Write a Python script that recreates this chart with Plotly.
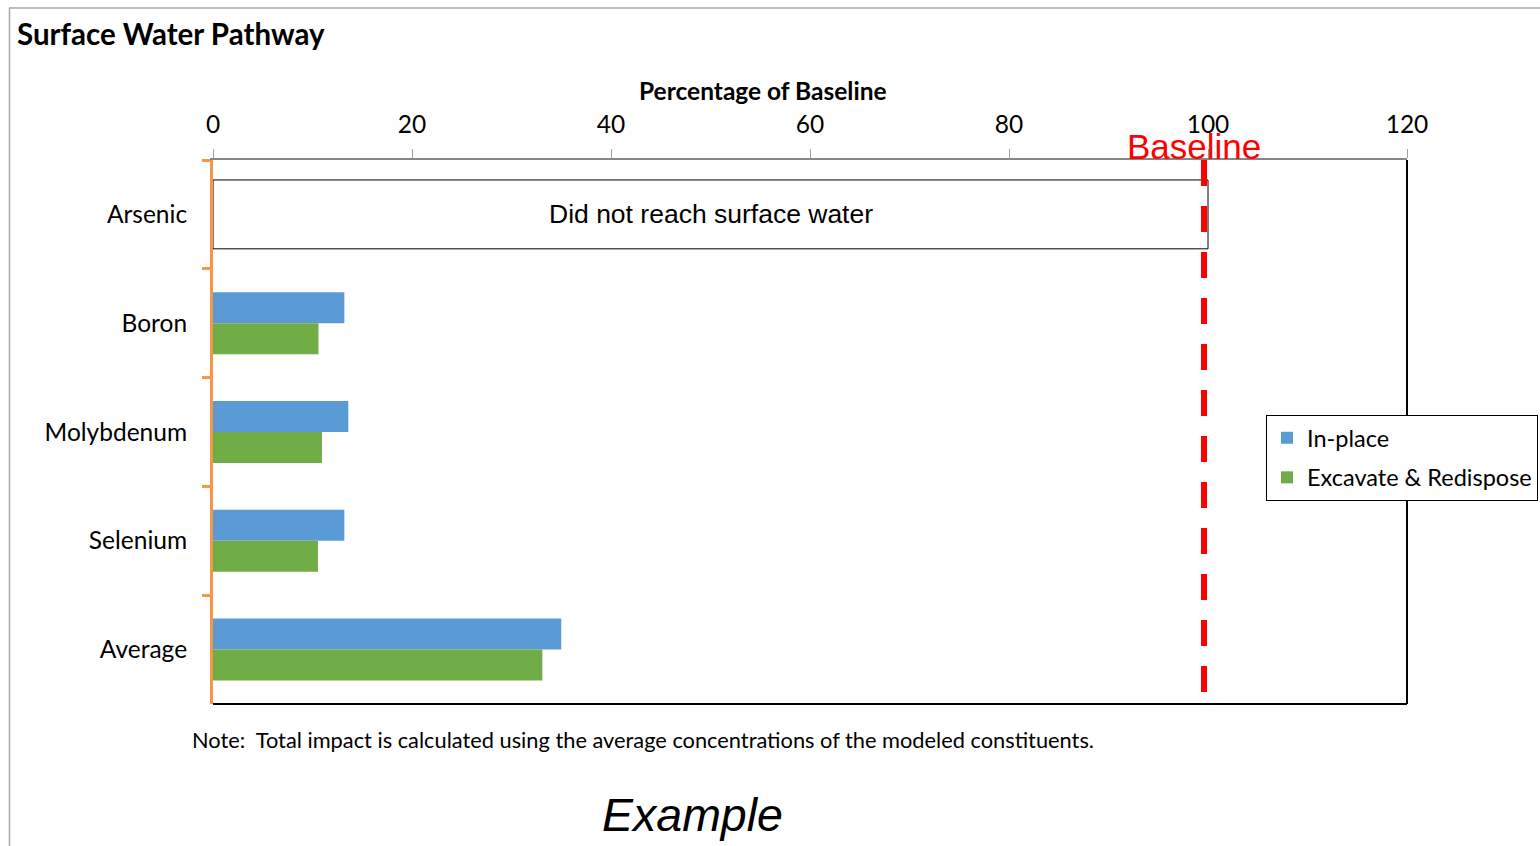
import plotly.graph_objects as go

categories = ["Arsenic", "Boron", "Molybdenum", "Selenium", "Average"]
in_place = [None, 13.2, 13.6, 13.2, 35.0]
excavate = [None, 10.6, 10.95, 10.55, 33.1]
arsenic_box_value = 100
baseline_value = 99.6
x_ticks = [0, 20, 40, 60, 80, 100, 120]

W, H = 1540, 846
L, R, T, B = 213, 1407, 160, 704


def px(x):
    return (x - L) / (R - L)


def py(y):
    return (B - y) / (B - T)


FONT = "Lato"
ARIAL = "Liberation Sans"
ORANGE = "#F79646"

fig = go.Figure()
fig.add_trace(go.Bar(
    y=categories, x=in_place, orientation="h", name="In-place",
    marker=dict(color="#5B9BD5", line=dict(width=0)), legendgroup="a",
))
fig.add_trace(go.Bar(
    y=categories, x=excavate, orientation="h", name="Excavate & Redispose",
    marker=dict(color="#70AD47", line=dict(width=0)), legendgroup="b",
))
fig.add_trace(go.Bar(
    y=[categories[0]], x=[arsenic_box_value], orientation="h", showlegend=False,
    width=0.633, offset=-0.3165, hoverinfo="skip",
    marker=dict(color="white", line=dict(color="black", width=1)),
))

fig.update_layout(
    width=W, height=H, autosize=False,
    margin=dict(l=L, r=W - R, t=T, b=H - B, pad=0, autoexpand=False),
    paper_bgcolor="white", plot_bgcolor="white",
    barmode="group", bargap=0.43, bargroupgap=0,
    font=dict(family=FONT, color="black"),
    showlegend=True,
    legend=dict(
        x=px(1266), y=py(415), xanchor="left", yanchor="top",
        bordercolor="black", borderwidth=1, bgcolor="white",
        font=dict(family=FONT, size=23.5, color="black"),
        traceorder="grouped", tracegroupgap=6,
        itemsizing="constant",
    ),
    xaxis=dict(
        side="top", range=[0, 120], tickvals=x_ticks,
        showgrid=False, zeroline=False,
        showline=True, linecolor="#868686", linewidth=1.5,
        ticks="outside", ticklen=9, tickcolor="#A0A0A0", tickwidth=1,
        tickfont=dict(family=FONT, size=24.5, color="black"),
        ticklabelstandoff=6,
    ),
    yaxis=dict(
        type="category", categoryorder="array", categoryarray=categories,
        autorange="reversed", showgrid=False, zeroline=False,
        showline=True, linecolor=ORANGE, linewidth=3,
        ticks="outside", tickson="boundaries", ticklen=8,
        tickcolor=ORANGE, tickwidth=3,
        tickfont=dict(family=FONT, size=24.5, color="black"),
        ticklabelstandoff=18,
    ),
)

shapes = [
    # outer frame
    dict(type="line", xref="paper", yref="paper", x0=px(9), x1=px(1545), y0=py(8), y1=py(8),
         line=dict(color="#A6A6A6", width=1.5)),
    dict(type="line", xref="paper", yref="paper", x0=px(9.5), x1=px(9.5), y0=py(8), y1=py(850),
         line=dict(color="#A6A6A6", width=1.5)),
    # plot border bottom / right
    dict(type="line", xref="paper", yref="paper", x0=0, x1=1, y0=0, y1=0,
         line=dict(color="black", width=2)),
    dict(type="line", xref="paper", yref="paper", x0=1, x1=1, y0=0, y1=1,
         line=dict(color="black", width=2)),
    # baseline
    dict(type="line", xref="x", yref="paper", x0=baseline_value, x1=baseline_value,
         y0=py(692), y1=py(157),
         line=dict(color="#FF0000", width=6, dash="26px,20px")),
]
fig.update_layout(shapes=shapes)

annotations = [
    dict(text="<b>Surface Water Pathway</b>", xref="paper", yref="paper",
         x=px(15), y=py(33), xanchor="left", yanchor="middle", showarrow=False,
         font=dict(family=FONT, size=29.5, color="black")),
    dict(text="<b>Percentage of Baseline</b>", xref="paper", yref="paper",
         x=px(763), y=py(91), xanchor="center", yanchor="middle", showarrow=False,
         font=dict(family=FONT, size=24.5, color="black")),
    dict(text="Baseline", xref="paper", yref="paper",
         x=px(1194), y=py(146), xanchor="center", yanchor="middle", showarrow=False,
         font=dict(family=ARIAL, size=35, color="#FF0000")),
    dict(text="Did not reach surface water", xref="x", yref="y",
         x=arsenic_box_value / 2, y=categories[0], xanchor="center", yanchor="middle",
         showarrow=False, font=dict(family=ARIAL, size=26.5, color="black")),
    dict(text="Note:  Total impact is calculated using the average concentrations of the modeled constituents.",
         xref="paper", yref="paper", x=px(190), y=py(739), xanchor="left", yanchor="middle",
         showarrow=False, font=dict(family=FONT, size=21.8, color="black")),
    dict(text="<i>Example</i>", xref="paper", yref="paper",
         x=px(692), y=py(815), xanchor="center", yanchor="middle", showarrow=False,
         font=dict(family=ARIAL, size=46.5, color="black")),
]
fig.update_layout(annotations=annotations)

fig.write_html(
    "out.html",
    config={"displayModeBar": False},
    post_script=(
        "document.body.style.margin='0';document.body.style.overflow='hidden';"
        "document.documentElement.style.overflow='hidden';"
    ),
)
